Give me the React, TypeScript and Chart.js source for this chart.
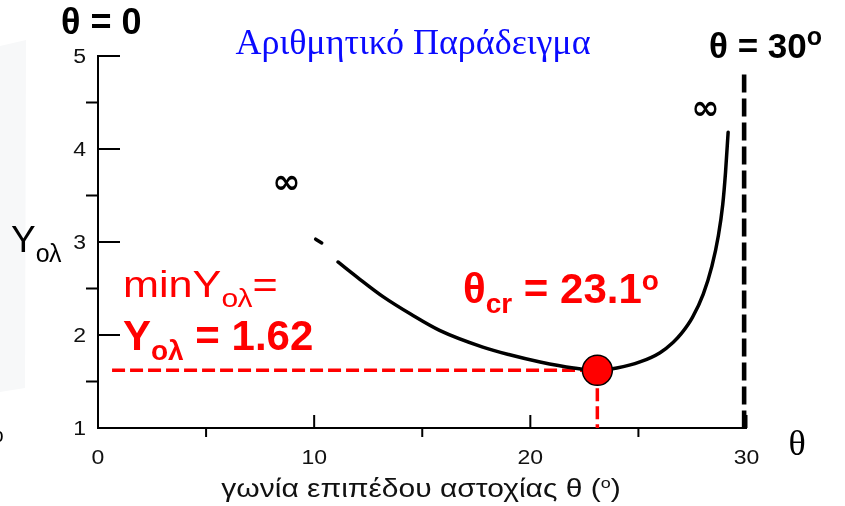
import { useEffect, useRef } from "react";
import { Chart, registerables } from "chart.js";

Chart.register(...registerables);

// Slope angle θ (degrees) and the total safety measure Yολ along the curve.
// The null entry leaves the short break near the start of the curve.
const thetaDeg = [10.07, 10.35, 10.7, 11.1, 12.0, 13.2, 14.5, 15.8, 17.8, 19.0, 20.45, 22.0, 23.1, 24.0, 25.07, 26.0, 26.6, 27.0, 27.5, 28.0, 28.4, 28.7, 28.9, 29.03, 29.15];
const yOl = [3.03, 2.99, null, 2.785, 2.62, 2.41, 2.22, 2.05, 1.87, 1.79, 1.71, 1.645, 1.62, 1.645, 1.71, 1.81, 1.92, 2.02, 2.19, 2.44, 2.74, 3.07, 3.4, 3.75, 4.18];

// Critical angle and minimum value
const thetaCr = 23.1;
const yMin = 1.62;
const guideStartTheta = 0.65;

// Vertical asymptote near θ = 30°
const asymptoteTheta = 29.9;
const asymptoteTop = 4.8;

// Axis ticks
const xTicks = [0, 10, 20, 30];
const xMinorTicks = [5, 15, 25];
const yTicks = [1, 2, 3, 4, 5];
const yMinorTicks = [1.5, 2.5, 3.5, 4.5];

// Positions (θ, Y) of the two ∞ marks
const infinityMarks = [
  { x: 8.72, y: 3.62 },
  { x: 28.1, y: 4.42 },
];

const SANS = '"Liberation Sans", Arial, Helvetica, sans-serif';
const SERIF = '"Liberation Serif", "Times New Roman", serif';

type Run = { text: string; size: number; bold?: boolean; dy?: number; family?: string };

function drawRuns(
  ctx: CanvasRenderingContext2D,
  runs: Run[],
  x: number,
  y: number,
  color: string,
  sx = 1,
  align: "left" | "center" = "left"
) {
  ctx.save();
  ctx.fillStyle = color;
  ctx.textBaseline = "alphabetic";
  ctx.textAlign = "left";
  const fonts = runs.map((r) => `${r.bold ? "bold " : ""}${r.size}px ${r.family ?? SANS}`);
  const widths = runs.map((r, i) => {
    ctx.font = fonts[i];
    return ctx.measureText(r.text).width * sx;
  });
  const total = widths.reduce((a, b) => a + b, 0);
  let cx = align === "center" ? x - total / 2 : x;
  runs.forEach((r, i) => {
    ctx.font = fonts[i];
    ctx.save();
    ctx.translate(cx, y + (r.dy ?? 0));
    ctx.scale(sx, 1);
    ctx.fillText(r.text, 0, 0);
    ctx.restore();
    cx += widths[i];
  });
  ctx.restore();
}

const decorations = {
  id: "decorations",
  beforeDraw(chart: Chart) {
    const ctx = chart.ctx;
    ctx.save();
    ctx.fillStyle = "#ffffff";
    ctx.fillRect(0, 0, chart.width, chart.height);
    // faint paper edge on the far left
    ctx.fillStyle = "#f7f8f9";
    ctx.beginPath();
    ctx.moveTo(0, 46);
    ctx.lineTo(26, 40);
    ctx.lineTo(25, 388);
    ctx.lineTo(0, 392);
    ctx.closePath();
    ctx.fill();
    ctx.restore();
  },
  afterDraw(chart: Chart) {
    const ctx = chart.ctx;
    const xs = chart.scales.x;
    const ys = chart.scales.y;
    const x0 = xs.getPixelForValue(0);
    const yBase = ys.getPixelForValue(1);

    ctx.save();
    ctx.strokeStyle = "#000";
    ctx.lineWidth = 2;
    ctx.beginPath();
    // y: major ticks point inward, minor ticks outward
    yTicks.forEach((v) => {
      const p = ys.getPixelForValue(v);
      ctx.moveTo(x0, p);
      ctx.lineTo(x0 + 22, p);
    });
    yMinorTicks.forEach((v) => {
      const p = ys.getPixelForValue(v);
      ctx.moveTo(x0 - 12, p);
      ctx.lineTo(x0, p);
    });
    // x: major ticks point inward, minor ticks outward
    xTicks.forEach((v) => {
      const p = xs.getPixelForValue(v);
      ctx.moveTo(p, yBase);
      ctx.lineTo(p, yBase - 13);
    });
    xMinorTicks.forEach((v) => {
      const p = xs.getPixelForValue(v);
      ctx.moveTo(p, yBase);
      ctx.lineTo(p, yBase + 9);
    });
    ctx.stroke();

    // tick labels
    ctx.fillStyle = "#111";
    ctx.font = `20px ${SANS}`;
    ctx.textBaseline = "middle";
    yTicks.forEach((v) => {
      const p = ys.getPixelForValue(v);
      ctx.save();
      ctx.translate(x0 - 12, p + 1);
      ctx.scale(1.15, 1);
      ctx.textAlign = "right";
      ctx.fillText(String(v), 0, 0);
      ctx.restore();
    });
    xTicks.forEach((v) => {
      const p = xs.getPixelForValue(v);
      ctx.save();
      ctx.translate(p, yBase + 30);
      ctx.scale(1.15, 1);
      ctx.textAlign = "center";
      ctx.fillText(String(v), 0, 0);
      ctx.restore();
    });

    // ∞ marks
    ctx.font = `bold 34px "DejaVu Sans", ${SANS}`;
    ctx.textAlign = "center";
    ctx.fillStyle = "#000";
    infinityMarks.forEach((m) => {
      ctx.fillText("∞", xs.getPixelForValue(m.x), ys.getPixelForValue(m.y));
    });

    // θ symbol at the end of the x axis
    ctx.font = `36px ${SERIF}`;
    ctx.fillText("θ", 797, 446);
    // clipped glyph on the left edge
    ctx.font = `20px ${SANS}`;
    ctx.fillText("o", -2, 436);
    ctx.restore();

    // title
    drawRuns(ctx, [{ text: "Αριθμητικό Παράδειγμα", size: 36, family: SERIF }], 413, 54, "#0a0aff", 1, "center");

    // boundary labels
    drawRuns(ctx, [{ text: "θ = 0", size: 36, bold: true }], 61, 34, "#000");
    drawRuns(
      ctx,
      [
        { text: "θ = 30", size: 35, bold: true },
        { text: "o", size: 25, bold: true, dy: -13 },
      ],
      709,
      58,
      "#000"
    );

    // axis titles
    drawRuns(
      ctx,
      [
        { text: "Y", size: 37 },
        { text: "ολ", size: 25, dy: 10 },
      ],
      11,
      252,
      "#000"
    );
    drawRuns(
      ctx,
      [
        { text: "γωνία επιπέδου αστοχίας θ (", size: 25 },
        { text: "o", size: 15, dy: -9 },
        { text: ")", size: 25 },
      ],
      421,
      497,
      "#111",
      1.2,
      "center"
    );

    // minimum annotation
    drawRuns(
      ctx,
      [
        { text: "minY", size: 36 },
        { text: "ολ", size: 25, dy: 10 },
        { text: "=", size: 36 },
      ],
      123,
      297,
      "#ff0000",
      1.2
    );
    drawRuns(
      ctx,
      [
        { text: "Y", size: 42, bold: true },
        { text: "ολ", size: 28, bold: true, dy: 10 },
        { text: ` = ${yMin.toFixed(2)}`, size: 42, bold: true },
      ],
      123,
      350,
      "#ff0000"
    );
    drawRuns(
      ctx,
      [
        { text: "θ", size: 42, bold: true },
        { text: "cr", size: 28, bold: true, dy: 10 },
        { text: ` = ${thetaCr.toFixed(1)}`, size: 42, bold: true },
        { text: "o", size: 28, bold: true, dy: -13 },
      ],
      463,
      303,
      "#ff0000"
    );
  },
};

export default function App() {
  const ref = useRef<HTMLCanvasElement>(null);

  useEffect(() => {
    document.body.style.margin = "0";
    const canvas = ref.current;
    if (!canvas) return;

    const chart = new Chart(canvas, {
      type: "line",
      data: {
        datasets: [
          {
            label: "minimum",
            data: [{ x: thetaCr, y: yMin }],
            showLine: false,
            pointRadius: 15,
            pointBackgroundColor: "#ff0000",
            pointBorderColor: "#000",
            pointBorderWidth: 1.5,
          },
          {
            label: "Yολ",
            data: thetaDeg.map((t, i) => ({ x: t, y: yOl[i] as number })),
            borderColor: "#000",
            borderWidth: 3.5,
            borderCapStyle: "round",
            pointRadius: 0,
            cubicInterpolationMode: "monotone",
            spanGaps: false,
            fill: false,
          },
          {
            label: "minY guide",
            data: [
              { x: guideStartTheta, y: yMin },
              { x: thetaCr, y: yMin },
            ],
            borderColor: "#ff0000",
            borderWidth: 3.5,
            borderDash: [13, 5],
            pointRadius: 0,
          },
          {
            label: "θcr guide",
            data: [
              { x: thetaCr, y: yMin },
              { x: thetaCr, y: 1 },
            ],
            borderColor: "#ff0000",
            borderWidth: 3.5,
            borderDash: [13, 5],
            pointRadius: 0,
          },
          {
            label: "asymptote",
            data: [
              { x: asymptoteTheta, y: asymptoteTop },
              { x: asymptoteTheta, y: 1 },
            ],
            borderColor: "#000",
            borderWidth: 5,
            borderDash: [18, 6],
            pointRadius: 0,
          },
        ],
      },
      options: {
        responsive: false,
        animation: false,
        devicePixelRatio: 1,
        layout: { padding: { left: 98, right: 98.5, top: 56, bottom: 78 } },
        plugins: {
          legend: { display: false },
          tooltip: { enabled: false },
        },
        scales: {
          x: {
            type: "linear",
            min: 0,
            max: 30,
            grid: { display: false, drawTicks: false },
            ticks: { display: false },
            border: { display: true, color: "#000", width: 2 },
          },
          y: {
            type: "linear",
            min: 1,
            max: 5,
            grid: { display: false, drawTicks: false },
            ticks: { display: false },
            border: { display: true, color: "#000", width: 2 },
          },
        },
      },
      plugins: [decorations],
    });

    return () => chart.destroy();
  }, []);

  return (
    <div style={{ position: "fixed", left: 0, top: 0, width: 845, height: 506, background: "#fff" }}>
      <canvas ref={ref} width={845} height={506} style={{ display: "block" }} />
    </div>
  );
}
